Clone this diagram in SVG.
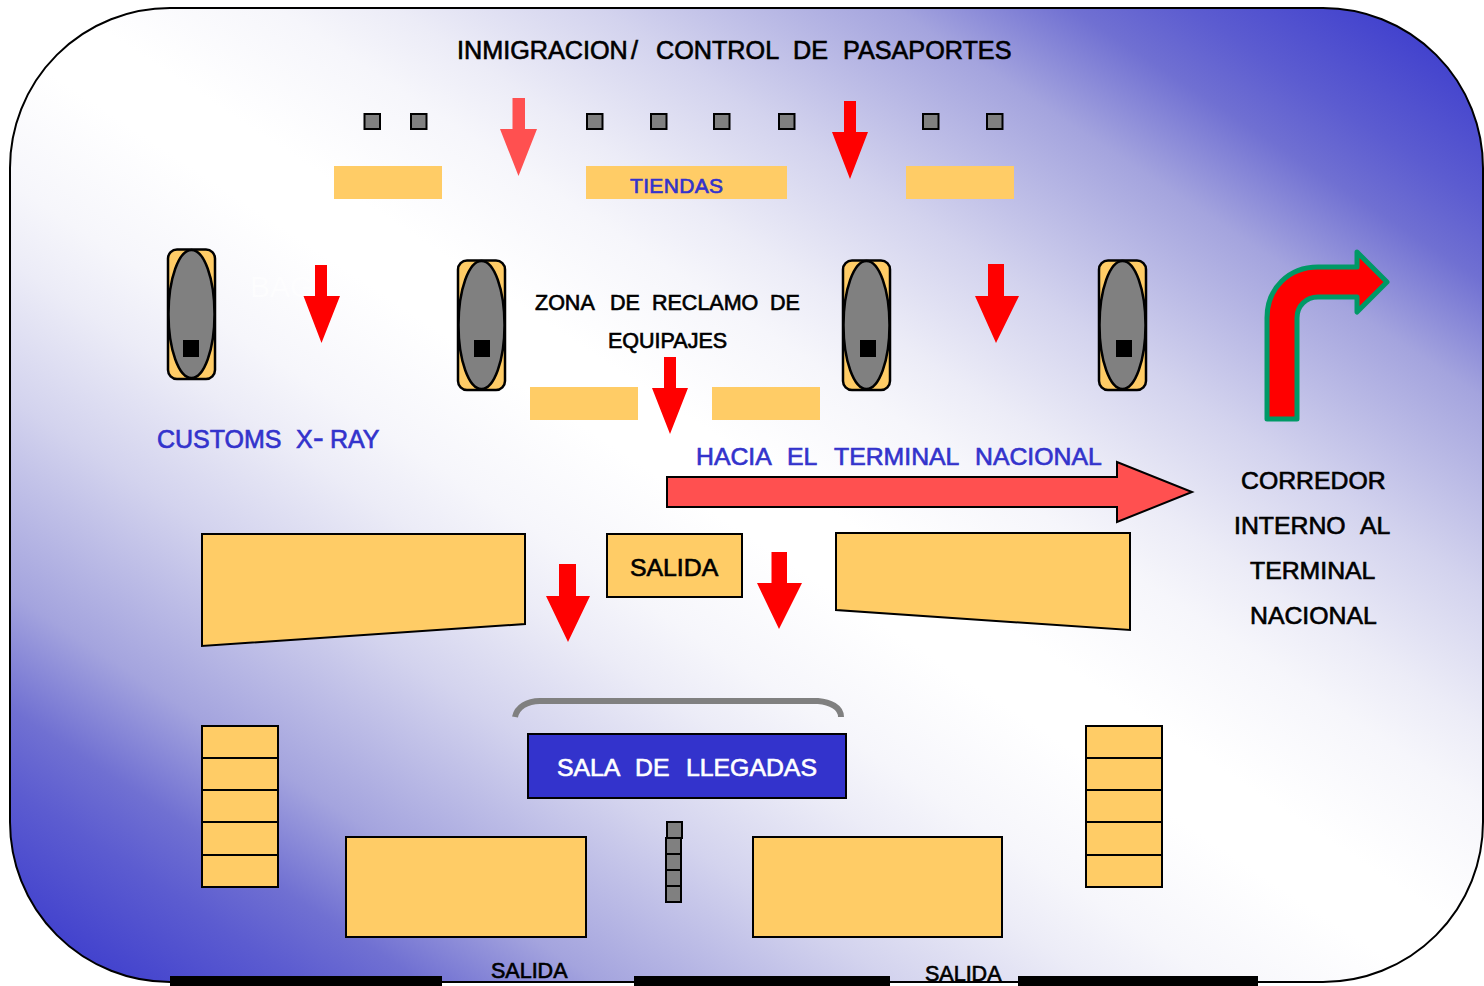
<svg xmlns="http://www.w3.org/2000/svg" width="1484" height="986" viewBox="0 0 1484 986">
<style>
text{font-family:"Liberation Sans",Arial,sans-serif;stroke-width:.65}
.k{fill:#000;stroke:#000}
.b{fill:#3333CC;stroke:#3333CC}
.w{fill:#fff;stroke:#fff}
.o{fill:#FFCC66;stroke:#000;stroke-width:2}
.p{fill:#FFCC66}
.g{fill:#808080;stroke:#000;stroke-width:2}
.c{stroke-width:2.500}
.r{fill:#FF0000}
.s{fill:#FF5050}
</style>
<defs>
<linearGradient id="bg" x1="1" y1="0" x2="0" y2="1">
<stop offset="0" stop-color="#3333CC"/><stop offset=".1" stop-color="#5c5cd0"/><stop offset=".14" stop-color="#7070d2"/><stop offset=".2" stop-color="#a4a4de"/><stop offset=".3" stop-color="#d3d3ee"/><stop offset=".37" stop-color="#ececf7"/><stop offset=".41" stop-color="#f6f6fb"/><stop offset=".48" stop-color="#fff"/><stop offset=".52" stop-color="#fff"/><stop offset=".59" stop-color="#f6f6fb"/><stop offset=".63" stop-color="#ececf7"/><stop offset=".7" stop-color="#d3d3ee"/><stop offset=".8" stop-color="#a4a4de"/><stop offset=".86" stop-color="#7070d2"/><stop offset=".9" stop-color="#5c5cd0"/><stop offset="1" stop-color="#3333CC"/>
</linearGradient>
</defs>
<rect id="hall" x="10" y="8" width="1473" height="974" rx="160" ry="160" fill="url(#bg)" stroke="#000" stroke-width="2"/>
<g id="title"><text class="k" y="59" font-size="25.200"><tspan x="457">INMIGRACION</tspan><tspan x="631">/ </tspan><tspan x="656">CONTROL </tspan><tspan x="793">DE </tspan><tspan x="843">PASAPORTES</tspan></text></g>
<text x="250" y="297" font-size="30" fill="#fff" stroke="none" opacity=".6">BAG</text>
<g id="booths">
<rect class="g" x="364.500" y="114" width="15.500" height="15"/>
<rect class="g" x="411" y="114" width="15.500" height="15"/>
<rect class="g" x="587" y="114" width="15.500" height="15"/>
<rect class="g" x="651" y="114" width="15.500" height="15"/>
<rect class="g" x="714" y="114" width="15.500" height="15"/>
<rect class="g" x="779" y="114" width="15.500" height="15"/>
<rect class="g" x="923" y="114" width="15.500" height="15"/>
<rect class="g" x="987" y="114" width="15.500" height="15"/>
</g>
<g id="tiendas">
<rect class="p" x="334" y="166" width="108" height="33"/>
<rect class="p" x="586" y="166" width="201" height="33"/>
<rect class="p" x="906" y="166" width="108" height="33"/>
<text class="b" x="630" y="193" font-size="21" textLength="93">TIENDAS</text>
</g>
<g id="carousel-1"><rect class="o c" x="168" y="249.500" width="47" height="129.500" rx="9"/><ellipse class="g c" cx="191.500" cy="314" rx="23" ry="64"/><rect x="183" y="340" width="16" height="17"/></g>
<g id="carousel-2"><rect class="o c" x="458" y="260.500" width="47" height="129.500" rx="9"/><ellipse class="g c" cx="481.500" cy="325" rx="23" ry="64"/><rect x="474" y="340" width="16" height="17"/></g>
<g id="carousel-3"><rect class="o c" x="843" y="260.500" width="47" height="129.500" rx="9"/><ellipse class="g c" cx="866.500" cy="325" rx="23" ry="64"/><rect x="860" y="340" width="16" height="17"/></g>
<g id="carousel-4"><rect class="o c" x="1099" y="260.500" width="47" height="129.500" rx="9"/><ellipse class="g c" cx="1122.500" cy="325" rx="23" ry="64"/><rect x="1116" y="340" width="16" height="17"/></g>
<g id="reclamo">
<text class="k" y="310" font-size="21.500"><tspan x="535">ZONA </tspan><tspan x="610">DE </tspan><tspan x="652">RECLAMO </tspan><tspan x="770">DE</tspan></text>
<text class="k" x="608" y="348" font-size="21.500">EQUIPAJES</text>
<rect class="p" x="530" y="387" width="108" height="33"/>
<rect class="p" x="712" y="387" width="108" height="33"/>
</g>
<g id="connectors">
<polygon class="s" points="512.500,98 525,98 525,129 537,129 518.500,176 500,129 512.500,129"/>
<polygon class="r" points="844,101 856,101 856,132 868,132 850,179 832,132 844,132"/>
<polygon class="r" points="315,265 327,265 327,296 340,296 321.500,343 303.500,296 315,296"/>
<polygon class="r" points="988,264 1004,264 1004,296 1019,296 996,343 975,296 988,296"/>
<polygon class="r" points="664,357 676,357 676,388 688,388 670,434 652,388 664,388"/>
<polygon class="r" points="559,564 576,564 576,596 590,596 568,642 546,596 559,596"/>
<polygon class="r" points="771.500,552 787,552 787,583 802,583 779,629 757,583 771.500,583"/>
<polygon class="s" points="667,477 1117,477 1117,462 1192,492 1117,522 1117,507 667,507" stroke="#000" stroke-width="2"/>
<path d="M1267 419V318C1267 288 1289 267 1318 267H1357V252L1387 282L1357 312V297H1318C1306 297 1297 306 1297 318V419Z" fill="#F00" stroke="#009966" stroke-width="5" stroke-linejoin="round"/>
<path d="M515 717C517 707 527 701 540 701H818C830 702 841 707 841 717" fill="none" stroke="#808080" stroke-width="6"/>
</g>
<text class="b" y="448" font-size="25"><tspan x="157">CUSTOMS </tspan><tspan x="296">X</tspan><tspan x="313" font-size="32">-</tspan><tspan x="330">RAY</tspan></text>
<text class="b" y="464.500" font-size="24.800"><tspan x="696">HACIA </tspan><tspan x="787">EL </tspan><tspan x="834">TERMINAL </tspan><tspan x="975">NACIONAL</tspan></text>
<g id="corredor">
<text class="k" x="1241" y="488.500" font-size="24.800">CORREDOR</text>
<text class="k" y="533.500" font-size="24.800"><tspan x="1234">INTERNO </tspan><tspan x="1360">AL</tspan></text>
<text class="k" x="1250" y="578.500" font-size="24.800">TERMINAL</text>
<text class="k" x="1250" y="623.500" font-size="24.800">NACIONAL</text>
</g>
<polygon id="shop-left" class="o" points="202,534 525,534 525,624 202,646"/>
<g id="salida-box"><rect class="o" x="607" y="534" width="135" height="63"/><text class="k" x="630" y="575.500" font-size="24.800">SALIDA</text></g>
<polygon id="shop-right" class="o" points="836,533 1130,533 1130,630 836,610"/>
<g id="sala"><rect x="528" y="734" width="318" height="64" fill="#3333CC" stroke="#000" stroke-width="2"/><text class="w" y="775.500" font-size="24.800"><tspan x="557">SALA </tspan><tspan x="635">DE </tspan><tspan x="686">LLEGADAS</tspan></text></g>
<g id="stack-left">
<rect class="o" x="202" y="726" width="76" height="32"/><rect class="o" x="202" y="758" width="76" height="32"/><rect class="o" x="202" y="790" width="76" height="32"/><rect class="o" x="202" y="822" width="76" height="33"/><rect class="o" x="202" y="855" width="76" height="32"/>
</g>
<g id="stack-right">
<rect class="o" x="1086" y="726" width="76" height="32"/><rect class="o" x="1086" y="758" width="76" height="32"/><rect class="o" x="1086" y="790" width="76" height="32"/><rect class="o" x="1086" y="822" width="76" height="33"/><rect class="o" x="1086" y="855" width="76" height="32"/>
</g>
<rect id="belt-left" class="o" x="346" y="837" width="240" height="100"/>
<rect id="belt-right" class="o" x="753" y="837" width="249" height="100"/>
<g id="column">
<rect class="g" x="667" y="822" width="15" height="16"/><rect class="g" x="666" y="838" width="15" height="16"/><rect class="g" x="666" y="854" width="15" height="16"/><rect class="g" x="666" y="870" width="15" height="16"/><rect class="g" x="666" y="886" width="15" height="16"/>
</g>
<g id="exits">
<text class="k" x="491" y="978" font-size="21.500">SALIDA</text>
<text class="k" x="925" y="981" font-size="21.500">SALIDA</text>
<rect x="170" y="976" width="272" height="10"/>
<rect x="634" y="976" width="256" height="10"/>
<rect x="1018" y="976" width="240" height="10"/>
</g>
</svg>
